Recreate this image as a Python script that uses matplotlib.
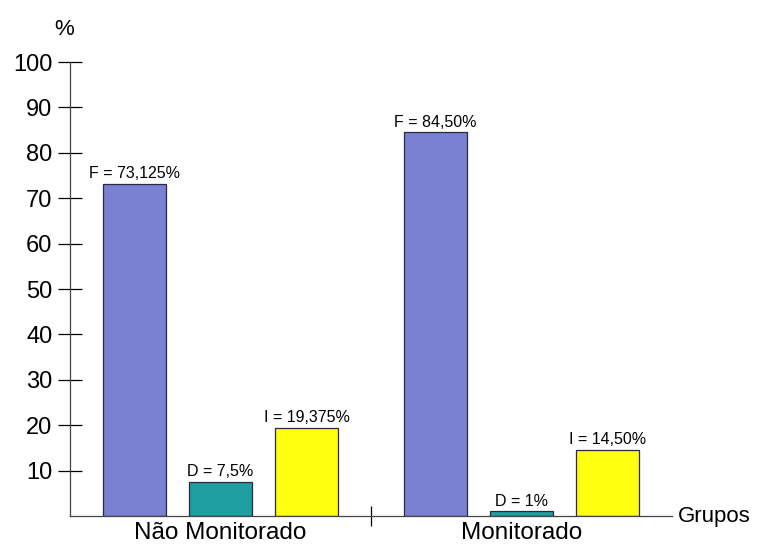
import numpy as np
import matplotlib
matplotlib.use("Agg")
import matplotlib.pyplot as plt

plt.rcParams["font.family"] = ["Liberation Sans", "DejaVu Sans"]

# Data
grupos = ["Não Monitorado", "Monitorado"]
series = ["F", "D", "I"]
valores_F = [73.125, 84.50]
valores_D = [7.5, 1.0]
valores_I = [19.375, 14.50]
rotulos_F = ["F = 73,125%", "F = 84,50%"]
rotulos_D = ["D = 7,5%", "D = 1%"]
rotulos_I = ["I = 19,375%", "I = 14,50%"]
yticks = [10, 20, 30, 40, 50, 60, 70, 80, 90, 100]

cores = ["#7a80d2", "#1f9ea2", "#ffff10"]

fig = plt.figure(figsize=(7.58, 5.45), dpi=100)
ax = fig.add_axes([0.0923, 0.0532, 0.794, 0.833])

centros = np.arange(len(grupos)) + 0.5
largura = 0.209
desloc = [-0.286, 0.0, 0.286]

for vals, rots, cor, d in zip([valores_F, valores_D, valores_I],
                              [rotulos_F, rotulos_D, rotulos_I], cores, desloc):
    barras = ax.bar(centros + d, vals, width=largura, color=cor,
                    edgecolor="#2a2a3a", linewidth=0.9, zorder=2)
    for b, r in zip(barras, rots):
        ax.text(b.get_x() + b.get_width() / 2, b.get_height() + 0.6, r,
                ha="center", va="bottom", fontsize=11.5)

ax.set_xlim(0, 2)
ax.set_ylim(0, 100)
ax.set_yticks(yticks)
ax.set_yticklabels([str(v) for v in yticks], fontsize=17)
ax.tick_params(axis="y", direction="inout", length=17, width=0.9, pad=4)

ax.set_xticks([1.0])
ax.set_xticklabels([""])
ax.tick_params(axis="x", direction="inout", length=14, width=0.9)
for c, g in zip(centros, grupos):
    ax.text(c, -1.3, g, ha="center", va="top", fontsize=17.5)

for s in ["top", "right"]:
    ax.spines[s].set_visible(False)
for s in ["left", "bottom"]:
    ax.spines[s].set_linewidth(0.9)
    ax.spines[s].set_color("#444444")

ax.text(1.01, 0, "Grupos", transform=ax.transAxes, ha="left", va="center",
        fontsize=16)
fig.text(0.085, 0.945, "%", ha="center", va="center", fontsize=16)

fig.savefig("out.png", dpi=100)
